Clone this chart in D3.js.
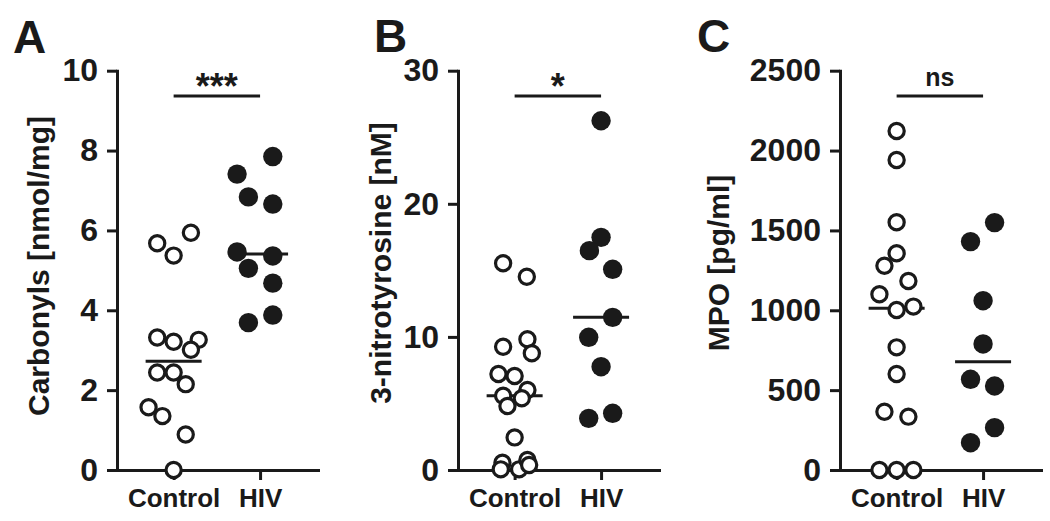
<!DOCTYPE html>
<html>
<head>
<meta charset="utf-8">
<script src="https://cdn.jsdelivr.net/npm/d3@7"></script>
<style>
  html, body { margin: 0; padding: 0; background: #ffffff; }
  svg { display: block; }
  text { font-family: Arial, "Liberation Sans", Helvetica, sans-serif; font-weight: bold; fill: #1a1a1a; }
</style>
</head>
<body>
<script>
// ---------------- DATA ----------------
const categories = ["Control", "HIV"];

// Panel A: Carbonyls [nmol/mg]
const carbonylsControl = [5.68, 5.37, 5.94, 3.32, 3.21, 3.26, 3.01, 2.44, 2.44, 2.15, 1.57, 1.35, 0.89, 0.0];
const carbonylsControlJitter = [-0.19, 0, 0.20, -0.19, 0, 0.29, 0.20, -0.19, 0, 0.14, -0.29, -0.13, 0.14, 0];
const carbonylsHIV = [7.85, 7.41, 6.84, 6.66, 5.46, 5.36, 5.05, 4.68, 3.69, 3.88];
const carbonylsHIVJitter = [0.147, -0.266, -0.135, 0.147, -0.266, 0.147, -0.135, 0.147, -0.135, 0.147];
const carbonylsTicks = [0, 2, 4, 6, 8, 10];

// Panel B: 3-nitrotyrosine [nM]
const nitroControl = [15.53, 14.52, 9.26, 9.82, 8.77, 7.21, 7.06, 6.01, 5.58, 5.39, 4.81, 2.45, 0.55, 0.05, 0.05, 0.75, 0.38];
const nitroControlJitter = [-0.133, 0.141, -0.133, 0.148, 0.199, -0.187, 0, 0.148, -0.133, 0.083, -0.083, 0, -0.141, -0.16, 0.052, 0.148, 0.168];
const nitroHIV = [26.24, 17.48, 16.48, 15.08, 11.47, 9.97, 7.76, 3.88, 4.26];
const nitroHIVJitter = [0, 0, -0.135, 0.134, 0.134, -0.143, 0, -0.143, 0.134];
const nitroTicks = [0, 10, 20, 30];

// Panel C: MPO [pg/ml]
const mpoControl = [2122, 1941, 1551, 1357, 1279, 1183, 1100, 1002, 1023, 768, 601, 365, 334, 0, 0, 0];
const mpoControlJitter = [0, 0, 0, 0, -0.141, 0.136, -0.199, 0, 0.194, 0, 0, -0.141, 0.136, -0.199, 0, 0.194];
const mpoHIV = [1549, 1430, 1060, 789, 568, 526, 265, 171];
const mpoHIVJitter = [0.133, -0.145, 0, 0, -0.145, 0.133, 0.133, -0.145];
const mpoTicks = [0, 500, 1000, 1500, 2000, 2500];

const panelLetters = ["A", "B", "C"];
const yTitles = ["Carbonyls [nmol/mg]", "3-nitrotyrosine [nM]", "MPO [pg/ml]"];
const significance = ["***", "*", "ns"];

// ---------------- LAYOUT ----------------
const INK = "#1a1a1a";
const svg = d3.select("body").append("svg").attr("width", 1050).attr("height", 521);

const panels = [
  { letter: panelLetters[0], title: yTitles[0], sig: significance[0], ticks: carbonylsTicks,
    groups: [[carbonylsControl, carbonylsControlJitter], [carbonylsHIV, carbonylsHIVJitter]],
    ax: 117, letterX: 13, letterY: 53, titleX: 38, titleY: 266 },
  { letter: panelLetters[1], title: yTitles[1], sig: significance[1], ticks: nitroTicks,
    groups: [[nitroControl, nitroControlJitter], [nitroHIV, nitroHIVJitter]],
    ax: 458, letterX: 374, letterY: 52, titleX: 380, titleY: 263 },
  { letter: panelLetters[2], title: yTitles[2], sig: significance[2], ticks: mpoTicks,
    groups: [[mpoControl, mpoControlJitter], [mpoHIV, mpoHIVJitter]],
    ax: 840, letterX: 697, letterY: 52, titleX: 718, titleY: 263 }
];

const yTop = 70.7, yBottom = 470, axisLen = 201;

panels.forEach(p => {
  const g = svg.append("g");
  const ymax = d3.max(p.ticks);
  const y = d3.scaleLinear().domain([0, ymax]).range([yBottom, yTop]);
  const x = d3.scaleLinear().domain([-0.655, 1.67]).range([p.ax, p.ax + axisLen]);

  // panel letter
  g.append("text").attr("x", p.letterX).attr("y", p.letterY)
    .style("font-size", "46px").text(p.letter);

  // y title
  g.append("text")
    .attr("transform", `translate(${p.titleX},${p.titleY}) rotate(-90)`)
    .attr("text-anchor", "middle").attr("dy", "0.35em")
    .style("font-size", "30px").text(p.title);

  // y axis
  const yAxisG = g.append("g").attr("transform", `translate(${p.ax},0)`)
    .call(d3.axisLeft(y).tickValues(p.ticks).tickSize(10).tickSizeOuter(0).tickPadding(9).tickFormat(d3.format("d")));
  // x axis
  const xAxisG = g.append("g").attr("transform", `translate(0,${yBottom})`)
    .call(d3.axisBottom(x).tickValues([0, 1]).tickSize(10).tickSizeOuter(0).tickPadding(9).tickFormat(i => categories[i]));

  [yAxisG, xAxisG].forEach(a => {
    a.attr("font-family", null).attr("font-size", null);
    a.select(".domain").attr("stroke", INK).attr("stroke-width", 3).attr("stroke-linecap", "square");
    a.selectAll(".tick line").attr("stroke", INK).attr("stroke-width", 3);
    a.selectAll(".tick text").attr("fill", INK);
  });
  yAxisG.selectAll(".tick text").style("font-size", "32px");
  xAxisG.selectAll(".tick text").style("font-size", "26px");

  // significance bar
  g.append("line").attr("x1", x(0)).attr("x2", x(1)).attr("y1", 96).attr("y2", 96)
    .attr("stroke", INK).attr("stroke-width", 3.2);
  const isNs = p.sig === "ns";
  g.append("text").attr("x", (x(0) + x(1)) / 2).attr("y", isNs ? 86 : 99)
    .attr("text-anchor", "middle")
    .style("font-size", isNs ? "25px" : "36px").text(p.sig);

  // median lines (drawn beneath points)
  p.groups.forEach(([vals], i) => {
    const m = d3.median(vals);
    g.append("line").attr("x1", x(i) - 28).attr("x2", x(i) + 28)
      .attr("y1", y(m)).attr("y2", y(m))
      .attr("stroke", INK).attr("stroke-width", 3);
  });

  // points
  p.groups.forEach(([vals, jit], i) => {
    const pts = vals.map((v, k) => ({ v, j: jit[k] }));
    g.append("g").selectAll("circle").data(pts).join("circle")
      .attr("cx", d => x(i + d.j))
      .attr("cy", d => y(d.v))
      .attr("r", i === 0 ? 7.6 : 9.7)
      .attr("fill", i === 0 ? "#ffffff" : INK)
      .attr("stroke", i === 0 ? INK : "none")
      .attr("stroke-width", i === 0 ? 3.2 : 0);
  });
});
</script>
</body>
</html>
